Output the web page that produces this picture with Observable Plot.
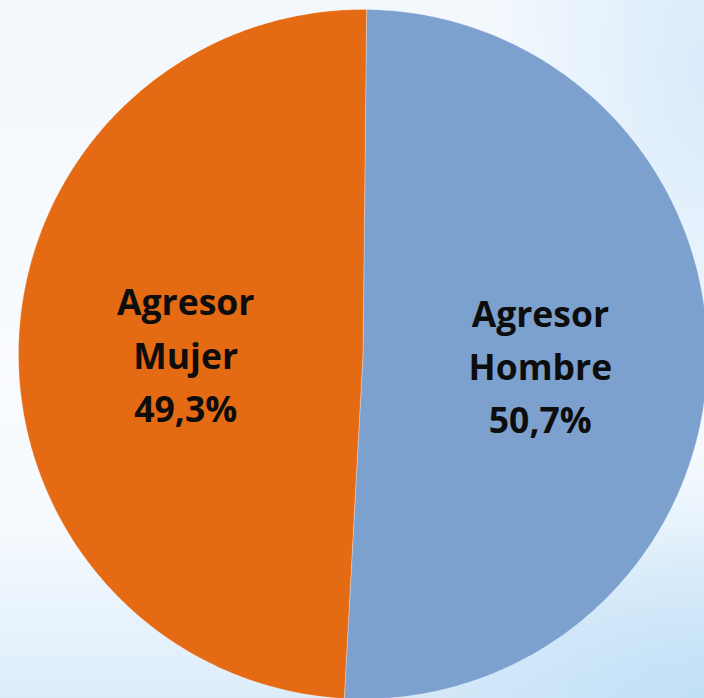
<!DOCTYPE html>
<html>
<head>
<meta charset="utf-8">
<script src="https://cdn.jsdelivr.net/npm/d3@7"></script>
<script src="https://cdn.jsdelivr.net/npm/@observablehq/plot@0.6"></script>
<style>
  html, body { margin: 0; padding: 0; width: 704px; height: 698px; overflow: hidden; }
  body {
    background:
      radial-gradient(ellipse 60% 35% at 100% 100%, rgba(190,222,246,0.9) 0%, rgba(190,222,246,0) 100%),
      radial-gradient(ellipse 30% 60% at 100% 10%, rgba(214,234,250,0.9) 0%, rgba(214,234,250,0) 100%),
      linear-gradient(to bottom, #f3f8fd 0%, #f9fbfe 55%, #f6fafe 75%, #dcedfa 100%);
  }
  #chart svg { display: block; }
</style>
</head>
<body>
<div id="chart"></div>
<script>
// Data
const categories = ["Agresor Hombre", "Agresor Mujer"];
const shares = [50.7, 49.3];
const labels = ["Agresor\nHombre\n50,7%", "Agresor\nMujer\n49,3%"];
const colors = ["#7ca1cf", "#e56a14"];

const data = categories.map((c, i) => ({category: c, value: shares[i], label: labels[i]}));

const start = 0.6 * Math.PI / 180;
const arcs = d3.pie().sort(null).value(d => d.value).startAngle(start).endAngle(start + 2 * Math.PI)(data);

// polygon outline of each slice (unit circle coordinates)
const outline = [];
for (const a of arcs) {
  const n = Math.max(2, Math.ceil((a.endAngle - a.startAngle) / (Math.PI / 360)));
  outline.push({category: a.data.category, x: 0, y: 0});
  for (let k = 0; k <= n; k++) {
    const t = a.startAngle + (a.endAngle - a.startAngle) * k / n;
    outline.push({category: a.data.category, x: Math.sin(t), y: Math.cos(t)});
  }
  outline.push({category: a.data.category, x: 0, y: 0});
}

const labelR = 0.515;
const labelPts = arcs.map(a => {
  const m = (a.startAngle + a.endAngle) / 2;
  return {category: a.data.category, label: a.data.label, x: labelR * Math.sin(m), y: labelR * Math.cos(m)};
});

const chart = Plot.plot({
  width: 704,
  height: 698,
  style: {background: "transparent", overflow: "hidden"},
  x: {domain: [-1, 1], range: [18, 707], axis: null},
  y: {domain: [-1, 1], range: [698.5, 9], axis: null},
  color: {domain: categories, range: colors},
  marks: [
    Plot.line(outline, {x: "x", y: "y", z: "category", fill: "category", stroke: "#ffffff", strokeOpacity: 0.35, strokeWidth: 0.8, curve: "linear"}),
    Plot.text(labelPts, {
      x: "x", y: "y", text: "label",
      fill: "#0d0d0d",
      fontSize: 35.5,
      fontWeight: "bold",
      fontFamily: "Open Sans",
      lineHeight: 1.5,
      dy: 3
    })
  ]
});
document.getElementById("chart").appendChild(chart);
</script>
</body>
</html>
